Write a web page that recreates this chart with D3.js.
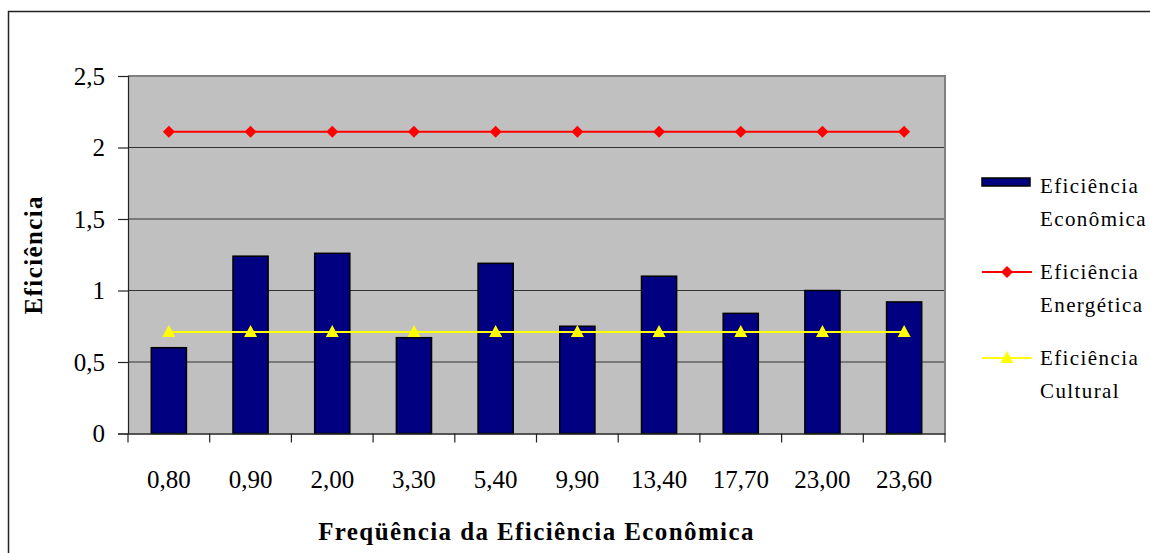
<!DOCTYPE html>
<html>
<head>
<meta charset="utf-8">
<script src="https://cdn.jsdelivr.net/npm/d3@7/dist/d3.min.js"></script>
<style>
  html, body { margin: 0; padding: 0; background: #fff; }
  svg { display: block; }
  text { font-family: "Liberation Serif", "Times New Roman", serif; fill: #000; }
</style>
</head>
<body>
<svg id="chart" width="1150" height="553"></svg>
<script>
// Frequency classes of economic efficiency (x categories)
const categories = ["0,80", "0,90", "2,00", "3,30", "5,40", "9,90", "13,40", "17,70", "23,00", "23,60"];
// Economic efficiency per class (bars)
const economica = [0.60, 1.24, 1.26, 0.67, 1.19, 0.75, 1.10, 0.84, 1.00, 0.92];
// Energy efficiency (constant line)
const energetica = [2.11, 2.11, 2.11, 2.11, 2.11, 2.11, 2.11, 2.11, 2.11, 2.11];
// Cultural efficiency (constant line)
const cultural = [0.71, 0.71, 0.71, 0.71, 0.71, 0.71, 0.71, 0.71, 0.71, 0.71];
const yTicks = [0, 0.5, 1, 1.5, 2, 2.5];
const legendLabels = [["Eficiência", "Econômica"], ["Eficiência", "Energética"], ["Eficiência", "Cultural"]];

const svg = d3.select("#chart");
const plot = { left: 128, right: 945, top: 76, bottom: 433.5 };

// Outer chart frame
svg.append("rect")
  .attr("x", 8.5).attr("y", 11.5)
  .attr("width", 1200).attr("height", 600)
  .attr("fill", "#fff").attr("stroke", "#222").attr("stroke-width", 1.5);

const x = d3.scaleBand().domain(categories).range([plot.left, plot.right]).padding(0);
const y = d3.scaleLinear().domain([0, 2.5]).range([plot.bottom, plot.top]);
const fmt = v => String(v).replace(".", ",");

// Plot area background
svg.append("rect")
  .attr("x", plot.left).attr("y", plot.top)
  .attr("width", plot.right - plot.left).attr("height", plot.bottom - plot.top)
  .attr("fill", "#C0C0C0");

// Gridlines
svg.append("g").selectAll("line").data(yTicks.filter(t => t > 0 && t < 2.5)).join("line")
  .attr("x1", plot.left).attr("x2", plot.right)
  .attr("y1", d => y(d)).attr("y2", d => y(d))
  .attr("stroke", "#333").attr("stroke-width", 1.2);

// Plot border (top and right in gray)
svg.append("path")
  .attr("d", `M${plot.left},${plot.top}H${plot.right}V${plot.bottom}`)
  .attr("fill", "none").attr("stroke", "#808080").attr("stroke-width", 2);

// Y axis
const yAxis = svg.append("g")
  .attr("transform", `translate(${plot.left},0)`)
  .call(d3.axisLeft(y).tickValues(yTicks).tickSize(10).tickPadding(13).tickFormat(fmt));
yAxis.select(".domain").attr("stroke", "#222").attr("stroke-width", 1.2);
yAxis.selectAll(".tick line").attr("stroke", "#222").attr("stroke-width", 1.2);
yAxis.selectAll(".tick text")
  .style("font-family", "'Liberation Serif', serif").style("font-size", "25px").attr("fill", "#000");

// Bars
const barW = x.bandwidth() * 0.43;
svg.append("g").selectAll("rect").data(economica).join("rect")
  .attr("x", (d, i) => x(categories[i]) + (x.bandwidth() - barW) / 2)
  .attr("y", d => y(d))
  .attr("width", barW)
  .attr("height", d => y(0) - y(d))
  .attr("fill", "#000080").attr("stroke", "#000").attr("stroke-width", 1.5);

// X axis with ticks at category boundaries
const xAxis = svg.append("g")
  .attr("transform", `translate(0,${plot.bottom})`)
  .call(d3.axisBottom(x).tickSize(0).tickPadding(37));
xAxis.select(".domain").attr("stroke", "#222").attr("stroke-width", 1.5);
xAxis.selectAll(".tick text")
  .style("font-family", "'Liberation Serif', serif").style("font-size", "25px").attr("fill", "#000");
const bounds = categories.map(c => x(c)).concat([plot.right]);
svg.append("g").selectAll("line").data(bounds).join("line")
  .attr("x1", d => d).attr("x2", d => d)
  .attr("y1", plot.bottom).attr("y2", plot.bottom + 9)
  .attr("stroke", "#222").attr("stroke-width", 1.2);

const cx = i => x(categories[i]) + x.bandwidth() / 2;
const line = d3.line().x((d, i) => cx(i)).y(d => y(d));

// Energy efficiency line with diamonds
svg.append("path").datum(energetica).attr("d", line)
  .attr("fill", "none").attr("stroke", "#FF0000").attr("stroke-width", 2);
const diamond = d3.symbol().type(d3.symbolSquare).size(72);
svg.append("g").selectAll("path").data(energetica).join("path")
  .attr("d", diamond)
  .attr("transform", (d, i) => `translate(${cx(i)},${y(d)}) rotate(45)`)
  .attr("fill", "#FF0000");

// Cultural efficiency line with triangles
svg.append("path").datum(cultural).attr("d", line)
  .attr("fill", "none").attr("stroke", "#FFFF00").attr("stroke-width", 2);
const tri = "M0,-7L6.5,5L-6.5,5Z";
svg.append("g").selectAll("path").data(cultural).join("path")
  .attr("d", tri)
  .attr("transform", (d, i) => `translate(${cx(i)},${y(d)})`)
  .attr("fill", "#FFFF00");

// Axis titles
svg.append("text")
  .attr("x", (plot.left + plot.right) / 2).attr("y", 540)
  .attr("text-anchor", "middle")
  .style("font-size", "25px").style("font-weight", "bold").style("letter-spacing", "1.4px")
  .text("Freqüência da Eficiência Econômica");
svg.append("text")
  .attr("transform", `translate(42,${(plot.top + plot.bottom) / 2}) rotate(-90)`)
  .attr("text-anchor", "middle")
  .style("font-size", "25px").style("font-weight", "bold").style("letter-spacing", "1.4px")
  .text("Eficiência");

// Legend
const legend = svg.append("g").attr("transform", "translate(982,0)");
const rowY = [186, 272, 358];
legend.append("rect").attr("x", 0).attr("y", rowY[0] - 8).attr("width", 48).attr("height", 8)
  .attr("fill", "#000080").attr("stroke", "#000").attr("stroke-width", 1.5);
legend.append("line").attr("x1", 0).attr("x2", 50).attr("y1", rowY[1]).attr("y2", rowY[1])
  .attr("stroke", "#FF0000").attr("stroke-width", 2);
legend.append("path").attr("d", diamond).attr("transform", `translate(25,${rowY[1]}) rotate(45)`).attr("fill", "#FF0000");
legend.append("line").attr("x1", 0).attr("x2", 50).attr("y1", rowY[2]).attr("y2", rowY[2])
  .attr("stroke", "#FFFF00").attr("stroke-width", 2);
legend.append("path").attr("d", tri).attr("transform", `translate(25,${rowY[2]})`).attr("fill", "#FFFF00");
legendLabels.forEach((lines, k) => {
  const t = legend.append("text")
    .attr("x", 58).attr("y", rowY[k] + 7)
    .style("font-size", "21px").style("letter-spacing", "1.4px");
  lines.forEach((s, j) => t.append("tspan").attr("x", 58).attr("dy", j === 0 ? 0 : 32.5).text(s));
});
</script>
</body>
</html>
